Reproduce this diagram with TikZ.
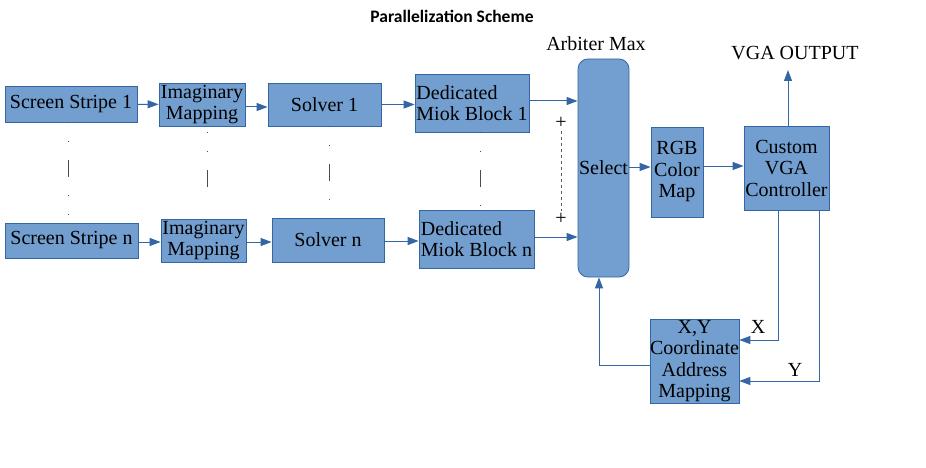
\documentclass[tikz,border=0pt]{standalone}
\usepackage{fontspec}
\setmainfont{Liberation Serif}
\newfontfamily\titlefont{Carlito}
\usetikzlibrary{arrows.meta,calc}
\definecolor{boxfill}{HTML}{729FCF}
\definecolor{boxline}{HTML}{3465A4}
\definecolor{arrowc}{HTML}{3465A4}
\begin{document}
\begin{tikzpicture}[x=1pt,y=-1pt,
  blk/.style={draw=boxline, fill=boxfill, line width=0.8pt, inner sep=1pt, align=center, font=\fontsize{20}{21.5}\selectfont},
  lbl/.style={inner sep=0pt, font=\fontsize{20}{21.5}\selectfont},
  conn/.style={draw=arrowc, line width=1pt, -{Triangle[length=11pt,width=8pt]}},
  dd/.style={draw=gray!60!black, line width=0.8pt, dash pattern=on 1pt off 18pt on 1pt off 18pt on 17pt off 18pt},
  ds/.style={draw=gray!70!black, line width=0.7pt, dash pattern=on 3pt off 3pt}]
\useasboundingbox (0,0) rectangle (926,468);
\fill[white] (0,0) rectangle (926,468);

\node[inner sep=0pt] (title) at (452,16) {\titlefont\bfseries\fontsize{17.5}{19}\selectfont Parallelization Scheme};

% top row
\node[blk, minimum width=132pt, minimum height=36pt] (ss1) at (71,104) {Screen Stripe 1};
\node[blk, minimum width=86pt, minimum height=43pt] (im1) at (202,104.5) {Imaginary\\Mapping};
\node[blk, minimum width=113pt, minimum height=43pt] (sv1) at (324.5,104.5) {Solver 1};
\node[blk, minimum width=114pt, minimum height=58pt, align=left] (db1) at (472,103) {Dedicated\\Miok Block 1};
% bottom row
\node[blk, minimum width=133pt, minimum height=35pt] (ssn) at (71.5,240.5) {Screen Stripe n};
\node[blk, minimum width=85pt, minimum height=43pt] (imn) at (203.5,240.5) {Imaginary\\Mapping};
\node[blk, minimum width=112pt, minimum height=44pt] (svn) at (328,240) {Solver n};
\node[blk, minimum width=115pt, minimum height=58pt, align=left] (dbn) at (476.5,239) {Dedicated\\Miok Block n};
% right part
\node[blk, minimum width=51pt, minimum height=218pt, rounded corners=10pt, inner sep=0pt] (sel) at (603.5,168) {Select};
\node[blk, minimum width=52pt, minimum height=90pt, inner sep=0pt] (rgb) at (677,172) {RGB\\Color\\Map};
\node[blk, minimum width=85pt, minimum height=84pt, inner sep=0pt] (vga) at (786.5,168) {Custom\\VGA\\Controller};
\node[blk, minimum width=85pt, minimum height=84pt, inner sep=0pt] (xy) at (694.5,361) {X,Y\\Coordinate\\Address\\Mapping};

% labels
\node[lbl] (arb) at (596,44) {Arbiter Max};
\node[lbl] (vgaout) at (795,53) {VGA OUTPUT};
\node[lbl] (xl) at (758,327) {X};
\node[lbl] (yl) at (795,370) {Y};
\node[lbl] (p1) at (561,123) {+};
\node[lbl] (p2) at (561,219) {+};

% coordinates for free ends / bends
\coordinate (outtip) at (788,70);
\coordinate (xa) at (778,340);
\coordinate (ya) at (819,381);
\coordinate (fb) at (599,365);

% arrows top row
\draw[conn] (ss1) -- (im1);
\draw[conn] (im1.east |- 0,107) -- (sv1.west |- 0,107);
\draw[conn] (sv1) -- (db1.west |- sv1);
\draw[conn] (db1.east |- 0,101) -- (sel.west |- 0,101);
% arrows bottom row
\draw[conn] (ssn.east |- 0,242) -- (imn.west |- 0,242);
\draw[conn] (imn.east |- 0,242) -- (svn.west |- 0,242);
\draw[conn] (svn.east |- 0,241) -- (dbn.west |- 0,241);
\draw[conn] (dbn.east |- 0,237) -- (sel.west |- 0,237);
% right part
\draw[conn] (sel.east |- 0,167) -- (rgb.west |- 0,167);
\draw[conn] (rgb.east |- 0,166) -- (vga.west |- 0,166);
\draw[conn] (vga.north -| outtip) -- (outtip);
\draw[conn] (vga.south -| xa) -- (xa) -- (xa -| xy.east);
\draw[conn] (vga.south -| ya) -- (ya) -- (ya -| xy.east);
\draw[conn] (fb -| xy.west) -- (fb) -- (fb |- sel.south);

% dash-dot continuation lines
\draw[dd] (ss1.south -| 68,0) -- (ssn.north -| 68,0);
\draw[dd, shorten <=6pt, shorten >=14pt] (im1.south -| 207,0) -- (imn.north -| 207,0);
\draw[dd] (sv1.south -| 329,0) -- (svn.north -| 329,0);
\draw[dd, shorten >=3pt] (db1.south -| 480,0) -- (dbn.north -| 480,0);
\draw[ds, shorten <=2pt, shorten >=2pt] (p1.south) -- (p2.north);
\end{tikzpicture}
\end{document}
